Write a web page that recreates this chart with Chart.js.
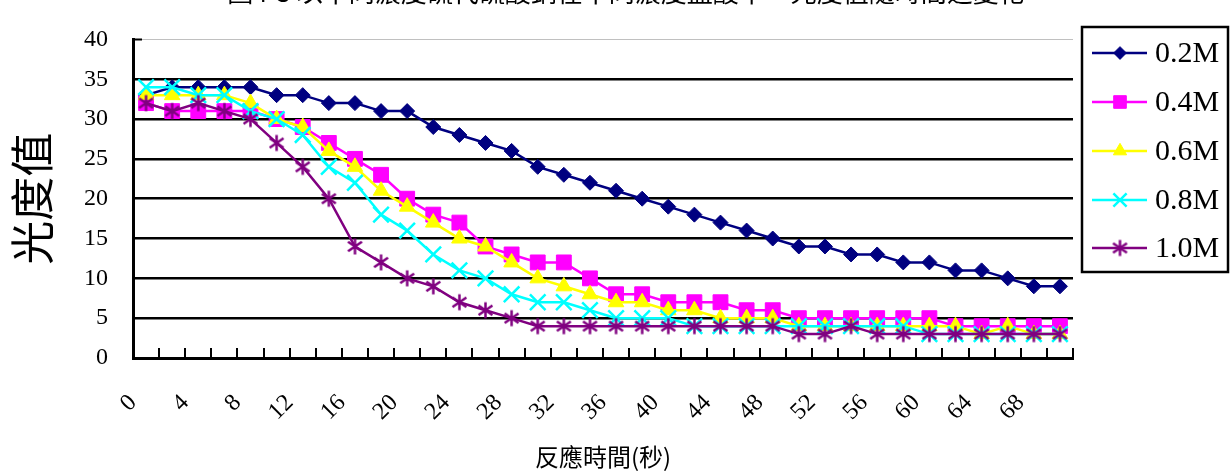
<!DOCTYPE html>
<html>
<head>
<meta charset="utf-8">
<script src="https://cdn.jsdelivr.net/npm/chart.js@4.4.0/dist/chart.umd.min.js"></script>
<style>
  html, body { margin: 0; padding: 0; background: #fff; }
  #wrap { width: 1230px; height: 471px; }
</style>
</head>
<body>
<div id="wrap"><canvas id="lightChart" width="1230" height="471"></canvas></div>
<script>
// reaction time (s)
const seconds = [0,2,4,6,8,10,12,14,16,18,20,22,24,26,28,30,32,34,36,38,40,42,44,46,48,50,52,54,56,58,60,62,64,66,68,70];

// light readings per concentration
const m02 = [33,34,34,34,34,33,33,32,32,31,31,29,28,27,26,24,23,22,21,20,19,18,17,16,15,14,14,13,13,12,12,11,11,10,9,9];
const m04 = [32,31,31,31,31,30,29,27,25,23,20,18,17,14,13,12,12,10,8,8,7,7,7,6,6,5,5,5,5,5,5,4,4,4,4,4];
const m06 = [33,33,33,33,32,30,29,26,24,21,19,17,15,14,12,10,9,8,7,7,6,6,5,5,5,4,4,4,4,4,4,4,3,4,3,3];
const m08 = [34,34,33,33,31,30,28,24,22,18,16,13,11,10,8,7,7,6,5,5,5,4,4,4,4,4,4,4,4,4,3,3,3,3,3,3];
const m10 = [32,31,32,31,30,27,24,20,14,12,10,9,7,6,5,4,4,4,4,4,4,4,4,4,4,3,3,4,3,3,3,3,3,3,3,3];

const seriesNames = ['0.2M', '0.4M', '0.6M', '0.8M', '1.0M'];
const yTicks = [0, 5, 10, 15, 20, 25, 30, 35, 40];

const titleText = '圖4-3 以不同濃度硫代硫酸鈉在不同濃度鹽酸中，光度值隨時間之變化';
const serif = '"Liberation Serif", "Times New Roman", serif';
const cjk = '"Noto Sans CJK TC", "Noto Sans CJK SC", sans-serif';

// Excel style asterisk marker (6 arms), drawn once on a small canvas
function asterisk(color, size) {
  const c = document.createElement('canvas');
  c.width = size;
  c.height = size;
  const g = c.getContext('2d');
  const m = size / 2;
  const r = m - 1.5;
  g.strokeStyle = color;
  g.lineWidth = 2.5;
  g.beginPath();
  g.moveTo(m, m - r);
  g.lineTo(m, m + r);
  g.moveTo(m - r * 0.87, m - r * 0.6);
  g.lineTo(m + r * 0.87, m + r * 0.6);
  g.moveTo(m - r * 0.87, m + r * 0.6);
  g.lineTo(m + r * 0.87, m - r * 0.6);
  g.stroke();
  return c;
}

function series(label, data, color, style, radius, order) {
  return {
    label: label,
    data: data,
    borderColor: color,
    backgroundColor: color,
    borderWidth: 2.5,
    pointStyle: style,
    pointRadius: radius,
    pointHoverRadius: radius,
    pointBorderWidth: style === 'crossRot' ? 2.5 : 1,
    pointBorderColor: color,
    pointBackgroundColor: color,
    tension: 0,
    order: order
  };
}

const datasets = [
  series(seriesNames[0], m02, '#000080', 'rectRot', 7.5, 4),
  series(seriesNames[1], m04, '#FF00FF', 'rect', 10.5, 3),
  series(seriesNames[2], m06, '#FFFF00', 'triangle', 9, 2),
  series(seriesNames[3], m08, '#00FFFF', 'crossRot', 11, 1),
  series(seriesNames[4], m10, '#800080', asterisk('#800080', 19), 9, 0)
];

// small tick marks pointing into the plot, like the original
const insideTicks = {
  id: 'insideTicks',
  afterDraw(chart) {
    const ctx = chart.ctx;
    const xs = chart.scales.x;
    const ys = chart.scales.y;
    const n = seconds.length;
    const step = (xs.right - xs.left) / n;
    ctx.save();
    ctx.strokeStyle = '#000';
    ctx.lineWidth = 2;
    ctx.beginPath();
    for (let i = 1; i <= n; i++) {
      const x = Math.round(xs.left + i * step);
      ctx.moveTo(x, ys.bottom);
      ctx.lineTo(x, ys.bottom - 10);
    }
    const yTop = ys.getPixelForValue(40);
    ctx.moveTo(xs.left, yTop);
    ctx.lineTo(xs.left + 9, yTop);
    ctx.stroke();
    ctx.restore();
  }
};

// boxed legend on the right with line + marker samples
const boxLegend = {
  id: 'boxLegend',
  afterDraw(chart) {
    const ctx = chart.ctx;
    const left = 1082, top = 27, w = 146, h = 245;
    ctx.save();
    ctx.fillStyle = '#fff';
    ctx.fillRect(left, top, w, h);
    ctx.strokeStyle = '#000';
    ctx.lineWidth = 2.5;
    ctx.strokeRect(left, top, w, h);
    const rows = [53, 102, 151, 200, 248];
    chart.data.datasets.forEach((ds, i) => {
      const y = rows[i];
      ctx.strokeStyle = ds.borderColor;
      ctx.lineWidth = 2.5;
      ctx.beginPath();
      ctx.moveTo(1092, y);
      ctx.lineTo(1147, y);
      ctx.stroke();
      ctx.fillStyle = ds.backgroundColor;
      ctx.lineWidth = ds.pointBorderWidth;
      Chart.helpers.drawPoint(ctx, {
        pointStyle: ds.pointStyle,
        radius: ds.pointRadius * 0.85,
        rotation: 0,
        borderWidth: ds.pointBorderWidth
      }, 1120, y);
      ctx.fillStyle = '#000';
      ctx.font = '30px ' + serif;
      ctx.textBaseline = 'middle';
      ctx.textAlign = 'left';
      ctx.fillText(ds.label, 1155, y + 1);
    });
    ctx.restore();
  }
};

// chart title, clipped by the top edge as in the picture
const topTitle = {
  id: 'topTitle',
  afterDraw(chart) {
    const ctx = chart.ctx;
    ctx.save();
    ctx.fillStyle = '#000';
    ctx.font = '26px ' + cjk;
    ctx.textAlign = 'center';
    ctx.textBaseline = 'alphabetic';
    ctx.fillText(titleText, 626, 2);
    ctx.restore();
  }
};

new Chart(document.getElementById('lightChart'), {
  type: 'line',
  data: {
    labels: seconds,
    datasets: datasets
  },
  options: {
    responsive: false,
    animation: false,
    devicePixelRatio: 1,
    layout: {
      padding: { top: 17, right: 157, bottom: 0, left: 0 }
    },
    plugins: {
      legend: { display: false },
      tooltip: { enabled: false },
      title: { display: false }
    },
    scales: {
      x: {
        type: 'category',
        offset: true,
        grid: { display: false, drawTicks: false },
        border: { display: true, color: '#000', width: 3 },
        ticks: {
          autoSkip: false,
          minRotation: 45,
          maxRotation: 45,
          padding: 31,
          labelOffset: -13,
          color: '#000',
          font: { family: serif, size: 24 },
          callback: function(value, index) {
            return index % 2 === 0 ? String(seconds[index]) : '';
          }
        },
        title: {
          display: true,
          text: '反應時間(秒)',
          color: '#000',
          font: { family: cjk, size: 24 },
          padding: { top: 0, bottom: 0 }
        },
        afterFit(scale) { scale.height = 113; }
      },
      y: {
        min: 0,
        max: 40,
        afterBuildTicks(scale) {
          scale.ticks = yTicks.map(v => ({ value: v }));
        },
        grid: {
          drawTicks: false,
          color: ctx => ctx.tick.value === 40 ? '#c0c0c0' : '#000',
          lineWidth: ctx => ctx.tick.value === 40 ? 1 : 2.5
        },
        border: { display: true, color: '#000', width: 3 },
        ticks: {
          padding: 25,
          color: '#000',
          font: { family: serif, size: 24 }
        },
        title: {
          display: true,
          text: '光度值',
          color: '#000',
          font: { family: cjk, size: 44 },
          padding: { top: 6, bottom: 0 }
        },
        afterFit(scale) { scale.width = 133; }
      }
    }
  },
  plugins: [insideTicks, boxLegend, topTitle]
});
</script>
</body>
</html>
